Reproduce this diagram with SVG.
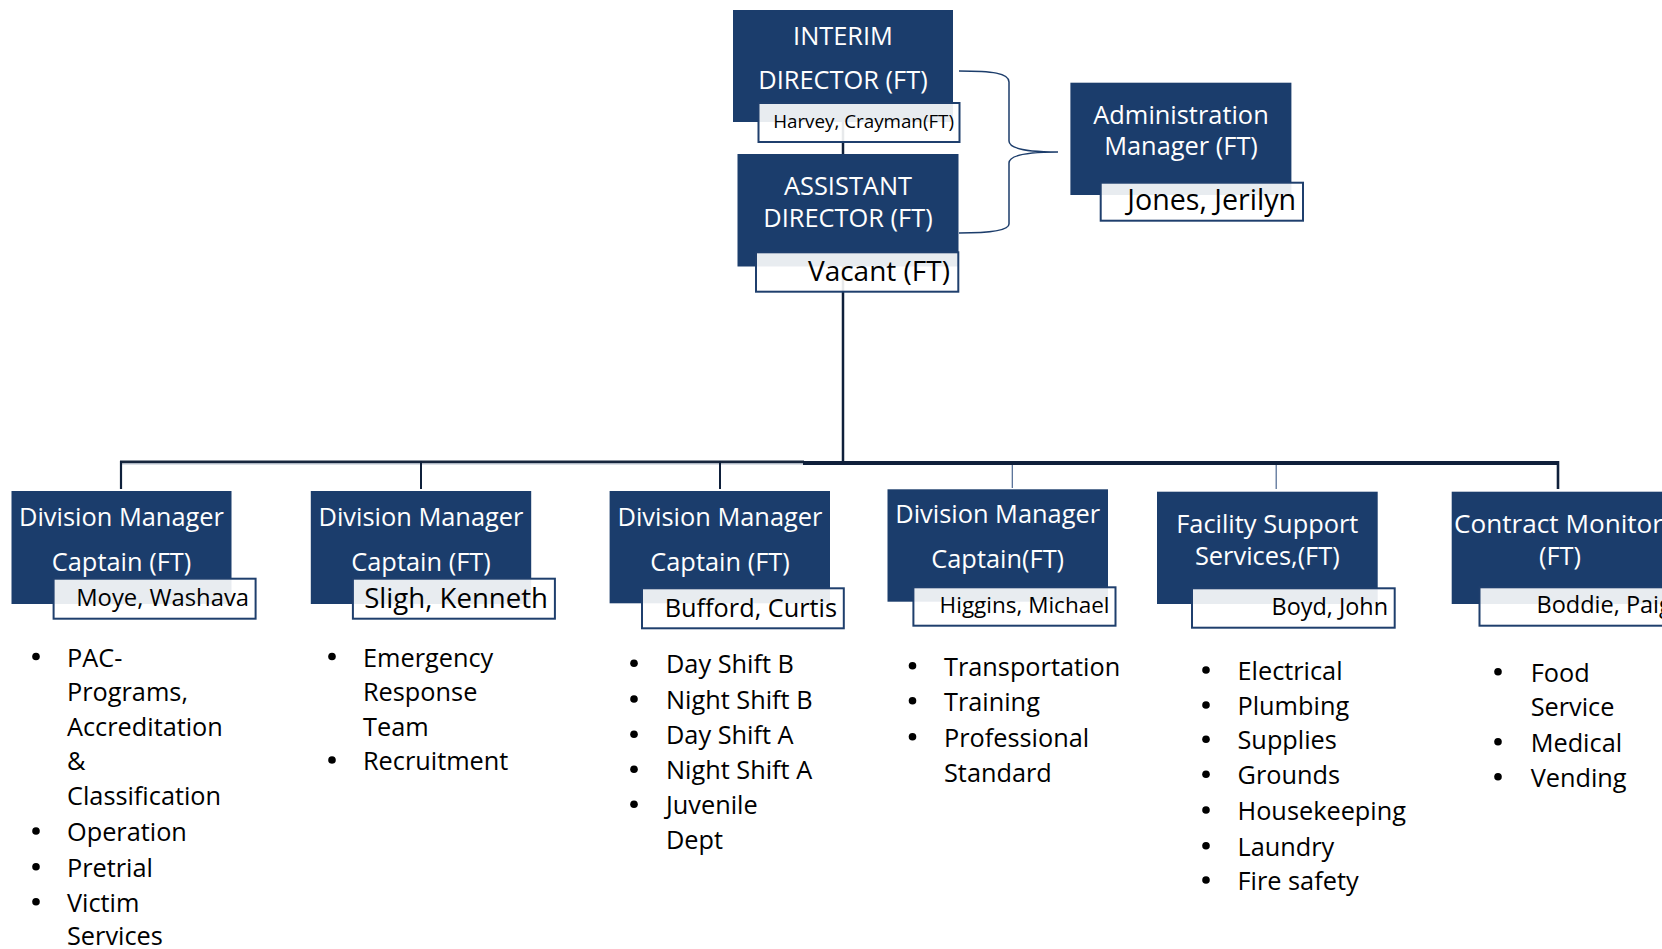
<svg xmlns="http://www.w3.org/2000/svg" width="1662" height="949" viewBox="0 0 1662 949">
  <defs>
    <style>
      .box{fill:#1b3d6c}
      .tag{fill:#fff;fill-opacity:.9;stroke:#1f3f6d;stroke-width:2}
      .t{font-family:"Open Sans","Noto Sans",sans-serif;fill:#fff;font-size:25.4px;text-anchor:middle}
      .n{font-family:"Open Sans","Noto Sans",sans-serif;fill:#000;text-anchor:end}
      .li{font-family:"Open Sans","Noto Sans",sans-serif;fill:#000;font-size:25.3px}
      .bu{fill:#000}
      .wire{stroke:#0f203b;fill:none}
      .thin{stroke:#4b6690;fill:none;stroke-width:1.2}
    </style>
  </defs>
  <rect width="1662" height="949" fill="#fff"/>

  <!-- reporting lines -->
  <g id="connectors">
    <line class="wire" x1="843" y1="122" x2="843" y2="154" stroke-width="2.5"/>
    <line class="wire" x1="843" y1="266" x2="843" y2="462" stroke-width="2.5"/>
    <line x1="120" y1="461.8" x2="804" y2="461.8" stroke="#17263d" stroke-width="2.6"/>
    <line x1="120" y1="463.8" x2="804" y2="463.8" stroke="#8a98aa" stroke-width="1"/>
    <line x1="803" y1="463" x2="1559" y2="463" stroke="#0f1f3a" stroke-width="4"/>
    <line class="wire" x1="121" y1="461" x2="121" y2="489" stroke-width="2.2"/>
    <line class="wire" x1="421" y1="461" x2="421" y2="489" stroke-width="2"/>
    <line class="wire" x1="720" y1="461" x2="720" y2="489" stroke-width="2"/>
    <line class="thin" x1="1012.3" y1="465" x2="1012.3" y2="488"/>
    <line class="thin" x1="1276.2" y1="465" x2="1276.2" y2="489"/>
    <line class="wire" x1="1558" y1="461" x2="1558" y2="489" stroke-width="2.6"/>
    <!-- brace linking both directors to administration -->
    <path d="M959,71 C992,71 1009,73 1009,82 L1009,141 C1009,149 1030,152 1058,152 C1030,152 1009,155 1009,163 L1009,224 C1009,230 992,233 959,233" fill="none" stroke="#1c3d6b" stroke-width="1.5"/>
  </g>

  <g id="interim-director">
    <rect class="box" x="733" y="10" width="220" height="112"/>
    <text class="t" x="843" y="45">INTERIM</text>
    <text class="t" x="843" y="89">DIRECTOR (FT)</text>
    <rect class="tag" x="758.5" y="103" width="201" height="39"/>
    <text class="n" x="954" y="128.3" font-size="18.8">Harvey, Crayman(FT)</text>
  </g>

  <g id="assistant-director">
    <rect class="box" x="737.5" y="154" width="221" height="112.5"/>
    <text class="t" x="848" y="195">ASSISTANT</text>
    <text class="t" x="848" y="226.7">DIRECTOR (FT)</text>
    <rect class="tag" x="756" y="252.3" width="202.3" height="39.4"/>
    <text class="n" x="950" y="281" font-size="28">Vacant (FT)</text>
  </g>

  <g id="admin-manager">
    <rect class="box" x="1070.4" y="82.7" width="221" height="112.3"/>
    <text class="t" x="1181" y="124.3">Administration</text>
    <text class="t" x="1181" y="155">Manager (FT)</text>
    <rect class="tag" x="1100.7" y="182.7" width="202.3" height="38"/>
    <text class="n" x="1296" y="210.3" font-size="28.6">Jones, Jerilyn</text>
  </g>

  <g id="division-moye">
    <rect class="box" x="11.5" y="491" width="220" height="113"/>
    <text class="t" x="121.5" y="525.7">Division Manager</text>
    <text class="t" x="121.5" y="570.7">Captain (FT)</text>
    <rect class="tag" x="53.6" y="578.7" width="202" height="40"/>
    <text class="n" x="249" y="606" font-size="23.8">Moye, Washava</text>
    <circle class="bu" cx="36" cy="656.5" r="3.8"/>
    <text class="li" x="67" y="666.5">PAC-</text>
    <text class="li" x="67" y="701">Programs,</text>
    <text class="li" x="67" y="736">Accreditation</text>
    <text class="li" x="67" y="770">&amp;</text>
    <text class="li" x="67" y="805">Classification</text>
    <circle class="bu" cx="36" cy="831" r="3.8"/>
    <text class="li" x="67" y="841">Operation</text>
    <circle class="bu" cx="36" cy="866.7" r="3.8"/>
    <text class="li" x="67" y="876.7">Pretrial</text>
    <circle class="bu" cx="36" cy="901.7" r="3.8"/>
    <text class="li" x="67" y="911.7">Victim</text>
    <text class="li" x="67" y="945">Services</text>
  </g>

  <g id="division-sligh">
    <rect class="box" x="310.8" y="491" width="220.4" height="113"/>
    <text class="t" x="421" y="525.7">Division Manager</text>
    <text class="t" x="421" y="570.7">Captain (FT)</text>
    <rect class="tag" x="352.9" y="578.7" width="202" height="40"/>
    <text class="n" x="548" y="607.7" font-size="27.6">Sligh, Kenneth</text>
    <circle class="bu" cx="332" cy="656.5" r="3.8"/>
    <text class="li" x="363" y="666.5">Emergency</text>
    <text class="li" x="363" y="701">Response</text>
    <text class="li" x="363" y="736">Team</text>
    <circle class="bu" cx="332" cy="760" r="3.8"/>
    <text class="li" x="363" y="770">Recruitment</text>
  </g>

  <g id="division-bufford">
    <rect class="box" x="609.6" y="491" width="220.4" height="112.3"/>
    <text class="t" x="720" y="525.7">Division Manager</text>
    <text class="t" x="720" y="570.7">Captain (FT)</text>
    <rect class="tag" x="642" y="588.3" width="201.8" height="40"/>
    <text class="n" x="837" y="616.7" font-size="25.3">Bufford, Curtis</text>
    <circle class="bu" cx="634" cy="663.3" r="3.8"/>
    <text class="li" x="666" y="673.3">Day Shift B</text>
    <circle class="bu" cx="634" cy="699" r="3.8"/>
    <text class="li" x="666" y="709">Night Shift B</text>
    <circle class="bu" cx="634" cy="734.3" r="3.8"/>
    <text class="li" x="666" y="744.3">Day Shift A</text>
    <circle class="bu" cx="634" cy="769.3" r="3.8"/>
    <text class="li" x="666" y="779.3">Night Shift A</text>
    <circle class="bu" cx="634" cy="804.3" r="3.8"/>
    <text class="li" x="666" y="814.3">Juvenile</text>
    <text class="li" x="666" y="849">Dept</text>
  </g>

  <g id="division-higgins">
    <rect class="box" x="887.5" y="489.3" width="220.5" height="112.4"/>
    <text class="t" x="997.7" y="523.3">Division Manager</text>
    <text class="t" x="997.7" y="568.3">Captain(FT)</text>
    <rect class="tag" x="913.4" y="587.3" width="202.1" height="38.4"/>
    <text class="n" x="1109.5" y="612.7" font-size="22.5">Higgins, Michael</text>
    <circle class="bu" cx="912.5" cy="665.7" r="3.8"/>
    <text class="li" x="944" y="675.7">Transportation</text>
    <circle class="bu" cx="912.5" cy="700.7" r="3.8"/>
    <text class="li" x="944" y="710.7">Training</text>
    <circle class="bu" cx="912.5" cy="736.7" r="3.8"/>
    <text class="li" x="944" y="746.7">Professional</text>
    <text class="li" x="944" y="781.7">Standard</text>
  </g>

  <g id="facility-support">
    <rect class="box" x="1157" y="491.7" width="220.7" height="112.3"/>
    <text class="t" x="1267.3" y="533.3">Facility Support</text>
    <text class="t" x="1267.3" y="565">Services,(FT)</text>
    <rect class="tag" x="1192" y="588.3" width="202.7" height="39.4"/>
    <text class="n" x="1388" y="615" font-size="23.4">Boyd, John</text>
    <circle class="bu" cx="1206" cy="670" r="3.8"/>
    <text class="li" x="1237.5" y="680">Electrical</text>
    <circle class="bu" cx="1206" cy="705" r="3.8"/>
    <text class="li" x="1237.5" y="715">Plumbing</text>
    <circle class="bu" cx="1206" cy="739.3" r="3.8"/>
    <text class="li" x="1237.5" y="749.3">Supplies</text>
    <circle class="bu" cx="1206" cy="774.3" r="3.8"/>
    <text class="li" x="1237.5" y="784.3">Grounds</text>
    <circle class="bu" cx="1206" cy="810" r="3.8"/>
    <text class="li" x="1237.5" y="820">Housekeeping</text>
    <circle class="bu" cx="1206" cy="845.7" r="3.8"/>
    <text class="li" x="1237.5" y="855.7">Laundry</text>
    <circle class="bu" cx="1206" cy="880" r="3.8"/>
    <text class="li" x="1237.5" y="890">Fire safety</text>
  </g>

  <g id="contract-monitor">
    <rect class="box" x="1451.7" y="491.7" width="221" height="112.3"/>
    <text class="t" x="1454" y="533.3" style="text-anchor:start" textLength="209" lengthAdjust="spacingAndGlyphs">Contract Monitor</text>
    <text class="t" x="1560" y="565">(FT)</text>
    <rect class="tag" x="1479.5" y="587.3" width="202" height="38.4"/>
    <text class="n" x="1536.5" y="613.3" font-size="23.5" style="text-anchor:start">Boddie, Paig</text>
    <circle class="bu" cx="1498" cy="671.7" r="3.8"/>
    <text class="li" x="1530.7" y="681.7">Food</text>
    <text class="li" x="1530.7" y="716">Service</text>
    <circle class="bu" cx="1498" cy="741.7" r="3.8"/>
    <text class="li" x="1530.7" y="751.7">Medical</text>
    <circle class="bu" cx="1498" cy="776.7" r="3.8"/>
    <text class="li" x="1530.7" y="786.7">Vending</text>
  </g>
</svg>
